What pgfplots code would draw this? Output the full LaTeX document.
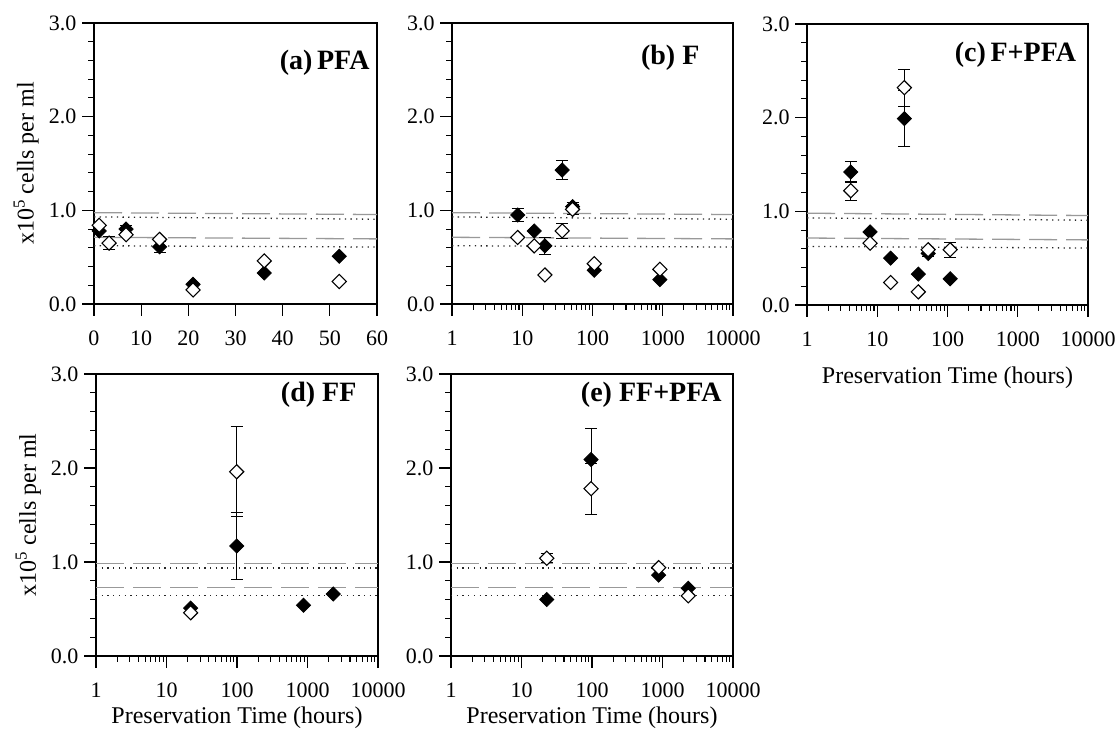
\documentclass[border=0pt]{standalone}
\usepackage{fontspec}
\setmainfont{Liberation Serif}
\usepackage{pgfplots}
\pgfplotsset{compat=1.18}

\tikzset{ttl/.style={anchor=east, font=\bfseries\fontsize{28}{28}\selectfont}}
\pgfplotsset{
  panel/.style={
    scale only axis, width=282pt, height=281pt,
    anchor=south west,
    ymin=0, ymax=3, ytick={0,1,2,3}, yticklabels={0.0,1.0,2.0,3.0},
    minor ytick={0.2,0.4,0.6,0.8,1.2,1.4,1.6,1.8,2.2,2.4,2.6,2.8},
    axis line style={line width=1.2pt},
    tick style={black, line width=1.1pt},
    major tick length=12pt, minor tick length=6pt,
    tick align=outside, tick pos=left,
    tick label style={font=\fontsize{22}{22}\selectfont},
    xticklabel style={yshift=-11pt},
    yticklabel style={xshift=-2pt},
    label style={font=\fontsize{24}{24}\selectfont},
    xlabel style={at={(axis description cs:0.5,-0.22)}, anchor=center},
    ylabel style={at={(axis description cs:-0.24,0.5)}, anchor=center},
  },
  logpanel/.style={panel, xmin=1, xmax=10000,
    xtick={1,10,100,1000,10000}, xticklabels={1,10,100,1000,10000},
    minor xtick={}},
  solidpt/.style={only marks, mark=square*, mark size=5pt,
    mark options={rotate=45, fill=black, draw=black, line width=0.8pt},
    error bars/y dir=both, error bars/y explicit,
    error bars/error bar style={black, line width=0.9pt},
    error bars/error mark options={black, rotate=90, mark size=6pt, line width=0.9pt}},
  hollowpt/.style={only marks, mark=square*, mark size=5pt,
    mark options={rotate=45, fill=white, draw=black, line width=1.1pt},
    error bars/y dir=both, error bars/y explicit,
    error bars/error bar style={black, line width=0.9pt},
    error bars/error mark options={black, rotate=90, mark size=6pt, line width=0.9pt}},
  refdash/.style={no marks, forget plot, black!40, line width=1.3pt, dash pattern=on 28pt off 9pt},
  refdot/.style={no marks, forget plot, black!85, line width=1.3pt, dash pattern=on 1.3pt off 4.4pt},
}

\begin{document}
\begin{tikzpicture}
\path[use as bounding box] (0,0) rectangle (1118pt,735pt);

% (a) PFA
\begin{axis}[panel, at={(94pt,431pt)}, width=283pt,
  xmin=0, xmax=60, xtick={0,10,20,30,40,50,60},
  xticklabels={0,10,20,30,40,50,60},
  ylabel={x10\textsuperscript{5} cells per ml}]
\addplot[refdash] coordinates {(0,0.975) (60,0.955)};
\addplot[refdot] coordinates {(0,0.930) (60,0.905)};
\addplot[refdash] coordinates {(0,0.712) (60,0.695)};
\addplot[refdot] coordinates {(0,0.622) (60,0.608)};
\addplot[solidpt] table[x=x, y=y, y error=e] {
x y e
1.1 0.78 0
6.8 0.80 0.04
13.9 0.61 0.06
21 0.21 0
36.1 0.33 0
52 0.51 0
};
\addplot[hollowpt] table[x=x, y=y, y error=e] {
x y e
1.1 0.84 0
3.2 0.65 0.07
6.8 0.74 0
13.9 0.69 0
21 0.15 0
36.1 0.46 0
52 0.24 0
};
\node[ttl] at (rel axis cs:0.986,0.86) {(a)\,PFA};
\end{axis}

% (b) F
\begin{axis}[xmode=log, logpanel, at={(452pt,431pt)}, width=281pt]
\addplot[refdash] coordinates {(1,0.975) (10000,0.955)};
\addplot[refdot] coordinates {(1,0.930) (10000,0.905)};
\addplot[refdash] coordinates {(1,0.712) (10000,0.695)};
\addplot[refdot] coordinates {(1,0.622) (10000,0.608)};
\addplot[solidpt] table[x=x, y=y, y error=e] {
x y e
8.6 0.95 0.07
14.8 0.78 0
21 0.62 0.095
37 1.43 0.105
52 1.04 0.04
106 0.36 0
910 0.26 0
};
\addplot[hollowpt] table[x=x, y=y, y error=e] {
x y e
8.6 0.71 0
14.8 0.62 0
21 0.31 0
37 0.78 0.08
52 1.01 0.05
106 0.43 0
910 0.37 0
};
\node[ttl] at (rel axis cs:0.893,0.875) {(b) F};
\end{axis}

% (c) F+PFA
\begin{axis}[xmode=log, logpanel, at={(807pt,430pt)}, width=281pt,
  xlabel={Preservation Time (hours)},
  xlabel style={at={(axis description cs:0.5,-0.26)}}]
\addplot[refdash] coordinates {(1,0.98) (10000,0.955)};
\addplot[refdot] coordinates {(1,0.930) (10000,0.905)};
\addplot[refdash] coordinates {(1,0.715) (10000,0.695)};
\addplot[refdot] coordinates {(1,0.625) (10000,0.608)};
\addplot[solidpt] table[x=x, y=y, y error=e] {
x y e
4.2 1.42 0.11
7.9 0.78 0
15.5 0.50 0
24.3 1.99 0.30
38.4 0.33 0
53 0.55 0.03
109 0.28 0
};
\addplot[hollowpt] table[x=x, y=y, y error=e] {
x y e
4.2 1.22 0.10
7.9 0.66 0
15.5 0.24 0
24.3 2.32 0.20
38.4 0.14 0
53 0.59 0
109 0.59 0.08
};
\node[ttl] at (rel axis cs:0.97,0.89) {(c)\,F+PFA};
\end{axis}

% (d) FF
\begin{axis}[xmode=log, logpanel, at={(96pt,79pt)}, width=282pt, height=282pt,
  xlabel={Preservation Time (hours)},
  ylabel={x10\textsuperscript{5} cells per ml}]
\addplot[refdash] coordinates {(1,0.985) (10000,0.985)};
\addplot[refdot] coordinates {(1,0.935) (10000,0.935)};
\addplot[refdash] coordinates {(1,0.725) (10000,0.725)};
\addplot[refdot] coordinates {(1,0.645) (10000,0.645)};
\addplot[solidpt] table[x=x, y=y, y error=e] {
x y e
22 0.51 0
99 1.17 0.36
880 0.54 0
2320 0.66 0
};
\addplot[hollowpt] table[x=x, y=y, y error=e] {
x y e
22 0.46 0
99 1.96 0.48
};
\node[ttl] at (rel axis cs:0.936,0.925) {(d) FF};
\end{axis}

% (e) FF+PFA
\begin{axis}[xmode=log, logpanel, at={(451pt,79pt)}, width=282pt, height=282pt,
  xlabel={Preservation Time (hours)}]
\addplot[refdash] coordinates {(1,0.985) (10000,0.985)};
\addplot[refdot] coordinates {(1,0.935) (10000,0.935)};
\addplot[refdash] coordinates {(1,0.725) (10000,0.725)};
\addplot[refdot] coordinates {(1,0.645) (10000,0.645)};
\addplot[solidpt] table[x=x, y=y, y error=e] {
x y e
22.8 0.60 0
97 2.09 0.33
883 0.86 0
2320 0.72 0
};
\addplot[hollowpt] table[x=x, y=y, y error=e] {
x y e
22.8 1.04 0.05
97 1.78 0.27
883 0.94 0
2320 0.64 0
};
\node[ttl] at (rel axis cs:0.972,0.925) {(e) FF+PFA};
\end{axis}
\end{tikzpicture}
\end{document}
